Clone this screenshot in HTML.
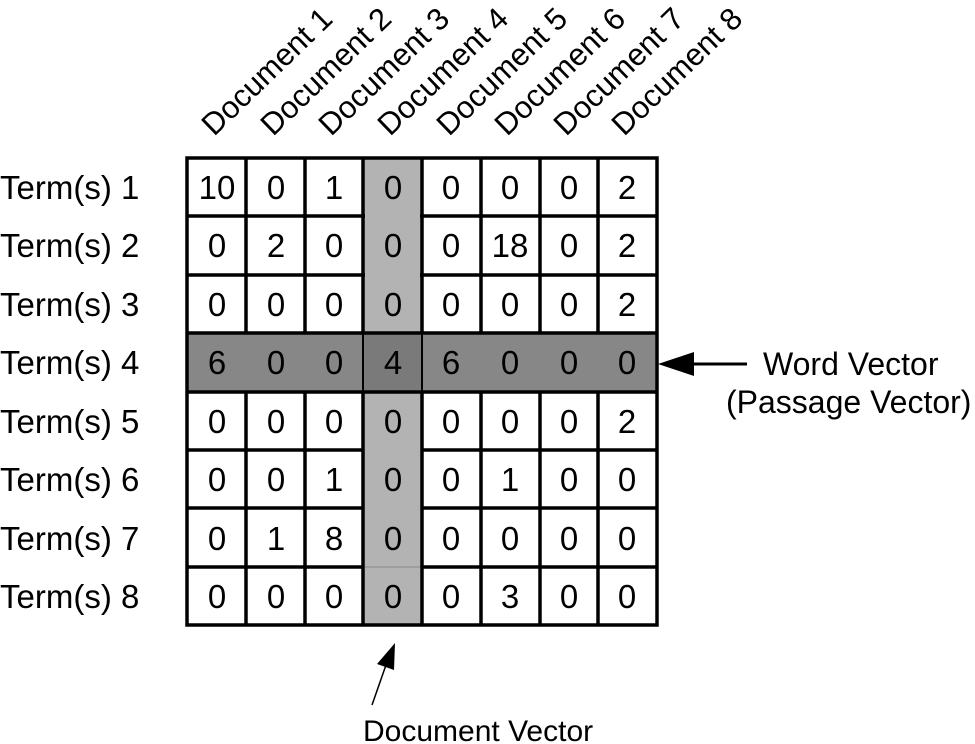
<!DOCTYPE html>
<html><head><meta charset="utf-8"><style>
html,body{margin:0;padding:0;background:#fff;}
svg{display:block;}
text{font-family:"Liberation Sans",Arial,sans-serif;fill:#000;}
</style></head><body>
<svg width="975" height="744" viewBox="0 0 975 744" xmlns="http://www.w3.org/2000/svg">
<rect x="363" y="158" width="59" height="467" fill="#b3b3b3"/>
<rect x="187" y="333" width="470" height="59" fill="#878787"/>
<rect x="363" y="333" width="59" height="59" fill="#7a7a7a" stroke="#000" stroke-width="2"/>
<line x1="363" y1="567" x2="422" y2="567" stroke="#888" stroke-width="1"/>
<g stroke="#000" stroke-width="3.5" fill="none">
<line x1="187" y1="216" x2="657" y2="216"/>
<line x1="187" y1="275" x2="657" y2="275"/>
<line x1="187" y1="333" x2="657" y2="333"/>
<line x1="187" y1="392" x2="657" y2="392"/>
<line x1="187" y1="450" x2="363" y2="450"/><line x1="422" y1="450" x2="657" y2="450"/>
<line x1="187" y1="508" x2="363" y2="508"/><line x1="422" y1="508" x2="657" y2="508"/>
<line x1="187" y1="567" x2="363" y2="567"/><line x1="422" y1="567" x2="657" y2="567"/>
<line x1="246" y1="158" x2="246" y2="333"/><line x1="246" y1="392" x2="246" y2="625"/>
<line x1="305" y1="158" x2="305" y2="333"/><line x1="305" y1="392" x2="305" y2="625"/>
<line x1="363" y1="158" x2="363" y2="333"/><line x1="363" y1="392" x2="363" y2="625"/>
<line x1="422" y1="158" x2="422" y2="333"/><line x1="422" y1="392" x2="422" y2="625"/>
<line x1="481" y1="158" x2="481" y2="333"/><line x1="481" y1="392" x2="481" y2="625"/>
<line x1="540" y1="158" x2="540" y2="333"/><line x1="540" y1="392" x2="540" y2="625"/>
<line x1="598" y1="158" x2="598" y2="333"/><line x1="598" y1="392" x2="598" y2="625"/>
<rect x="187" y="158" width="470" height="467"/>
</g>
<rect x="365" y="214" width="55" height="4" fill="#b3b3b3"/>
<rect x="365" y="273" width="55" height="4" fill="#b3b3b3"/>
<rect x="365" y="448" width="55" height="4" fill="#b3b3b3"/>
<rect x="365" y="506" width="55" height="4" fill="#b3b3b3"/>
<g font-size="33" text-anchor="middle">
<g transform="translate(0,199)">
<text x="217">10</text><text x="276">0</text><text x="334">1</text><text x="393">0</text><text x="451">0</text><text x="510">0</text><text x="569">0</text><text x="627">2</text></g>
<g transform="translate(0,257)">
<text x="217">0</text><text x="276">2</text><text x="334">0</text><text x="393">0</text><text x="451">0</text><text x="510">18</text><text x="569">0</text><text x="627">2</text></g>
<g transform="translate(0,316)">
<text x="217">0</text><text x="276">0</text><text x="334">0</text><text x="393">0</text><text x="451">0</text><text x="510">0</text><text x="569">0</text><text x="627">2</text></g>
<g transform="translate(0,374)">
<text x="217">6</text><text x="276">0</text><text x="334">0</text><text x="393">4</text><text x="451">6</text><text x="510">0</text><text x="569">0</text><text x="627">0</text></g>
<g transform="translate(0,433)">
<text x="217">0</text><text x="276">0</text><text x="334">0</text><text x="393">0</text><text x="451">0</text><text x="510">0</text><text x="569">0</text><text x="627">2</text></g>
<g transform="translate(0,491)">
<text x="217">0</text><text x="276">0</text><text x="334">1</text><text x="393">0</text><text x="451">0</text><text x="510">1</text><text x="569">0</text><text x="627">0</text></g>
<g transform="translate(0,550)">
<text x="217">0</text><text x="276">1</text><text x="334">8</text><text x="393">0</text><text x="451">0</text><text x="510">0</text><text x="569">0</text><text x="627">0</text></g>
<g transform="translate(0,608)">
<text x="217">0</text><text x="276">0</text><text x="334">0</text><text x="393">0</text><text x="451">0</text><text x="510">3</text><text x="569">0</text><text x="627">0</text></g>
</g>
<g font-size="33">
<text x="0" y="199">Term(s) 1</text>
<text x="0" y="257">Term(s) 2</text>
<text x="0" y="316">Term(s) 3</text>
<text x="0" y="374">Term(s) 4</text>
<text x="0" y="433">Term(s) 5</text>
<text x="0" y="491">Term(s) 6</text>
<text x="0" y="550">Term(s) 7</text>
<text x="0" y="608">Term(s) 8</text>
</g>
<g font-size="31">
<text transform="translate(214,137) rotate(-44)">Document 1</text>
<text transform="translate(273,137) rotate(-44)">Document 2</text>
<text transform="translate(331,137) rotate(-44)">Document 3</text>
<text transform="translate(390,137) rotate(-44)">Document 4</text>
<text transform="translate(449,137) rotate(-44)">Document 5</text>
<text transform="translate(507,137) rotate(-44)">Document 6</text>
<text transform="translate(566,137) rotate(-44)">Document 7</text>
<text transform="translate(624,137) rotate(-44)">Document 8</text>
</g>
<line x1="690" y1="364" x2="747" y2="364" stroke="#000" stroke-width="3"/>
<polygon points="658,364 694,352 694,376" fill="#000"/>
<g font-size="32">
<text x="763" y="375">Word Vector</text>
<text x="726" y="413">(Passage Vector)</text>
</g>
<line x1="372" y1="705" x2="386" y2="665" stroke="#000" stroke-width="1.5"/>
<polygon points="395,643 377,664 394,670" fill="#000"/>
<text x="363" y="741" font-size="30">Document Vector</text>
</svg>
</body></html>
